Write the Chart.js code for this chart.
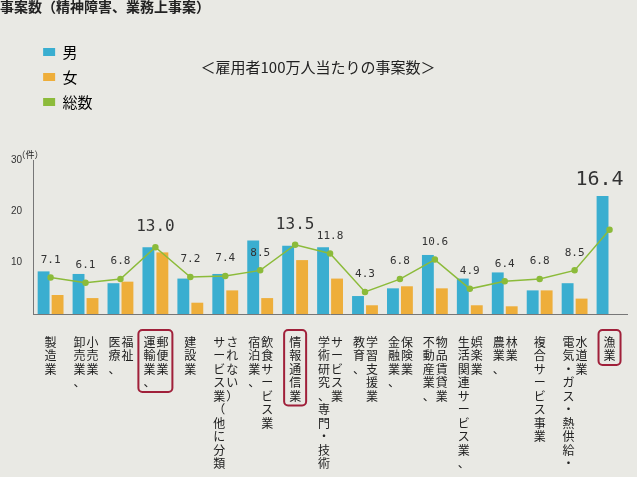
<!DOCTYPE html><html><head><meta charset="utf-8">
<script src="https://cdn.jsdelivr.net/npm/chart.js@4/dist/chart.umd.min.js"></script>
<style>html,body{margin:0;background:#e9e9e4;}#w{width:637px;height:477px;position:relative}</style></head><body><div id="w"><canvas id="c" width="637" height="477"></canvas></div>
<script>
const categories=[["製造業"],["卸売業、","小売業"],["医療、","福祉"],["運輸業、","郵便業"],["建設業"],["サービス業（他に分類","されない）"],["宿泊業、","飲食サービス業"],["情報通信業"],["学術研究、専門・技術","サービス業"],["教育、","学習支援業"],["金融業、","保険業"],["不動産業、","物品賃貸業"],["生活関連サービス業、","娯楽業"],["農業、","林業"],["複合サービス事業"],["電気・ガス・熱供給・","水道業"],["漁業"]];
const male=[8.3,7.8,6.0,13.0,6.9,7.8,14.3,13.3,13.0,3.5,5.0,11.5,6.9,8.1,4.6,6.0,23.0];
const female=[3.7,3.1,6.3,12.0,2.2,4.6,3.1,10.5,6.9,1.7,5.4,5.0,1.7,1.5,4.6,3.0,0];
const total=[7.1,6.1,6.8,13.0,7.2,7.4,8.5,13.5,11.8,4.3,6.8,10.6,4.9,6.4,6.8,8.5,16.4];
const boxed=[3,7,16];
const FONT='"Noto Sans CJK JP"';
const deco={id:'deco',afterDraw(ch){const c=ch.ctx,x=ch.scales.x,y=ch.scales.y;c.save();
c.fillStyle='#222';c.font='bold 14px '+FONT;c.textAlign='left';c.textBaseline='top';c.fillText('事案数（精神障害、業務上事案）',0,0);
c.font='15px '+FONT;c.textAlign='center';c.fillText('＜雇用者100万人当たりの事案数＞',318,60);
c.font='9px '+FONT;c.fillText('（件）',y.left+22,150);
total.forEach((v,i)=>{const px=x.getPixelForValue(i),py=y.getPixelForValue(v);const big=[3,7,16].includes(i);
c.font=(i==16?'20px ':big?'16px ':'11px ')+'DejaVu Sans Mono';c.textBaseline='bottom';c.fillStyle='#333';c.fillText(v.toFixed(1),px+(i==16?-10:0),i==16?y.getPixelForValue(23)-6:py-12);});
c.font='12px '+FONT;c.textBaseline='top';c.fillStyle='#222';
categories.forEach((lines,i)=>{const px=x.getPixelForValue(i);const n=lines.length;let maxLen=0;
lines.forEach((s,k)=>{const cx=px+(n==1?0:(k==0?-6:7)); [...s].forEach((ch2,j)=>{c.fillText(ch2,cx,336+j*13.5);});maxLen=Math.max(maxLen,s.length);});
if(boxed.includes(i)){c.strokeStyle='#a0203a';c.lineWidth=2;const w=n==1?22:34;c.beginPath();c.roundRect(px-w/2,330,w,maxLen*13.5+8,4);c.stroke();}});
c.restore();}};
new Chart(document.getElementById('c'),{data:{labels:categories.map(l=>l.join('')),datasets:[
{type:'line',label:'総数',data:total,borderColor:'#8cbb3a',backgroundColor:'#8cbb3a',pointRadius:2.5,borderWidth:1.5,order:0},
{type:'bar',label:'男',data:male,backgroundColor:'#3aaed0',categoryPercentage:0.8,barPercentage:0.85,order:1},
{type:'bar',label:'女',data:female,backgroundColor:'#eeae3a',categoryPercentage:0.8,barPercentage:0.85,order:1}]},
options:{responsive:false,animation:false,layout:{padding:{top:160,bottom:155,left:8,right:10}},
plugins:{legend:{position:'chartArea',align:'center',labels:{font:{size:15,family:FONT},boxWidth:12,boxHeight:8,color:'#222',
generateLabels(ch){return ch.data.datasets.map((d,i)=>({text:d.label,fillStyle:d.backgroundColor,strokeStyle:d.backgroundColor,lineWidth:0,datasetIndex:i})).sort((a,b)=>(a.datasetIndex||3)-(b.datasetIndex||3));}}},tooltip:{enabled:false}},
scales:{x:{ticks:{display:false},grid:{display:false},border:{color:'#777'}},
y:{min:0,max:30,ticks:{stepSize:10,font:{size:10},color:'#333',callback:v=>v==0?'':v},grid:{display:false},border:{color:'#777'}}}},plugins:[deco]});
</script></body></html>
